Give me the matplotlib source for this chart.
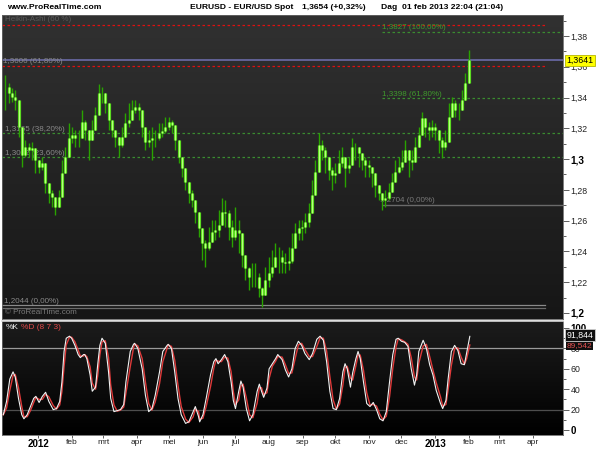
import numpy as np
import pandas as pd
import matplotlib
matplotlib.use("Agg")
import matplotlib.pyplot as plt
import matplotlib.transforms as mtransforms
from matplotlib.colors import LinearSegmentedColormap

plt.rcParams['font.family'] = ['Liberation Sans', 'DejaVu Sans']

# ---------------- data ----------------
ref_date = "2012-01-01"
price_first_date = "2011-12-02"
price_last_date = "2013-02-01"

price_close = [
    1.3471, 1.3427, 1.3406, 1.3384, 1.3211, 1.3027, 1.3081, 1.3059, 1.3070, 1.2994,
    1.2951, 1.2972, 1.2843, 1.2778, 1.2756, 1.2691, 1.2756, 1.2908, 1.3016, 1.3135,
    1.3157, 1.3135, 1.3135, 1.3243, 1.3189, 1.3124, 1.3189, 1.3287, 1.3427, 1.3427,
    1.3362, 1.3254, 1.3189, 1.3146, 1.3092, 1.3146, 1.3232, 1.3254, 1.3319, 1.3341,
    1.3319, 1.3211, 1.3113, 1.3124, 1.3135, 1.3135, 1.3167, 1.3185, 1.3211, 1.3243,
    1.3222, 1.3124, 1.3016, 1.2940, 1.2853, 1.2778, 1.2734, 1.2658, 1.2550, 1.2453,
    1.2420, 1.2464, 1.2528, 1.2539, 1.2572, 1.2658, 1.2648, 1.2561, 1.2496, 1.2539,
    1.2518, 1.2377, 1.2290, 1.2236, 1.2236, 1.2236, 1.2160, 1.2117, 1.2214, 1.2258,
    1.2301, 1.2366, 1.2366, 1.2334, 1.2327, 1.2340, 1.2420, 1.2518, 1.2550, 1.2561,
    1.2593, 1.2648, 1.2767, 1.2918, 1.3092, 1.3059, 1.3016, 1.2929, 1.2897, 1.2908,
    1.2972, 1.3016, 1.2940, 1.2962, 1.3081, 1.3081, 1.3037, 1.2994, 1.2962, 1.2951,
    1.2908, 1.2832, 1.2778, 1.2734, 1.2745, 1.2788, 1.2853, 1.2918, 1.2951, 1.2983,
    1.3059, 1.2994, 1.2983, 1.3081, 1.3157, 1.3265, 1.3211, 1.3189, 1.3211, 1.3189,
    1.3124, 1.3081, 1.3113, 1.3276, 1.3362, 1.3319, 1.3319, 1.3384, 1.3492, 1.3641,
]
price_high = [
    1.3547, 1.3492, 1.3460, 1.3449, 1.3341, 1.3102, 1.3124, 1.3102, 1.3113, 1.3059,
    1.2994, 1.3016, 1.2908, 1.2821, 1.2799, 1.2734, 1.2799, 1.2994, 1.3081, 1.3232,
    1.3211, 1.3189, 1.3189, 1.3319, 1.3254, 1.3189, 1.3254, 1.3341, 1.3488, 1.3471,
    1.3406, 1.3319, 1.3254, 1.3189, 1.3146, 1.3211, 1.3297, 1.3362, 1.3384, 1.3384,
    1.3362, 1.3276, 1.3167, 1.3189, 1.3211, 1.3189, 1.3232, 1.3232, 1.3276, 1.3276,
    1.3254, 1.3189, 1.3081, 1.2994, 1.2908, 1.2821, 1.2799, 1.2734, 1.2626, 1.2518,
    1.2474, 1.2561, 1.2604, 1.2604, 1.2669, 1.2745, 1.2734, 1.2669, 1.2604, 1.2691,
    1.2604, 1.2453, 1.2344, 1.2301, 1.2323, 1.2323, 1.2258, 1.2171, 1.2301, 1.2366,
    1.2409, 1.2453, 1.2431, 1.2409, 1.2388, 1.2431, 1.2518, 1.2583, 1.2604, 1.2604,
    1.2648, 1.2713, 1.2864, 1.2994, 1.3167, 1.3124, 1.3081, 1.2994, 1.2951, 1.2973,
    1.3059, 1.3081, 1.3016, 1.3016, 1.3135, 1.3102, 1.3059, 1.3037, 1.3016, 1.2994,
    1.2951, 1.2886, 1.2821, 1.2778, 1.2799, 1.2843, 1.2908, 1.2994, 1.3016, 1.3059,
    1.3124, 1.3037, 1.3059, 1.3146, 1.3211, 1.3308, 1.3254, 1.3243, 1.3254, 1.3232,
    1.3167, 1.3146, 1.3189, 1.3362, 1.3406, 1.3384, 1.3362, 1.3449, 1.3557, 1.3709,
]
price_low = [
    1.3319, 1.3362, 1.3373, 1.3319, 1.3146, 1.2951, 1.3016, 1.3016, 1.2994, 1.2908,
    1.2908, 1.2929, 1.2778, 1.2713, 1.2691, 1.2637, 1.2691, 1.2843, 1.2951, 1.3081,
    1.3102, 1.3081, 1.3081, 1.3189, 1.3124, 1.2994, 1.3124, 1.3232, 1.3362, 1.3362,
    1.3297, 1.3189, 1.3146, 1.3081, 1.3016, 1.3081, 1.3167, 1.3211, 1.3276, 1.3297,
    1.3254, 1.3146, 1.3059, 1.3081, 1.2994, 1.3081, 1.3124, 1.3146, 1.3167, 1.3189,
    1.3167, 1.3059, 1.2973, 1.2886, 1.2799, 1.2713, 1.2691, 1.2583, 1.2496, 1.2344,
    1.2301, 1.2409, 1.2474, 1.2474, 1.2496, 1.2604, 1.2561, 1.2474, 1.2431, 1.2474,
    1.2388, 1.2301, 1.2215, 1.2149, 1.2171, 1.2171, 1.2106, 1.2041, 1.2128, 1.2171,
    1.2236, 1.2301, 1.2258, 1.2258, 1.2258, 1.2280, 1.2323, 1.2453, 1.2474, 1.2474,
    1.2518, 1.2561, 1.2691, 1.2821, 1.2994, 1.2994, 1.2908, 1.2864, 1.2799, 1.2843,
    1.2908, 1.2951, 1.2821, 1.2908, 1.2994, 1.2994, 1.2951, 1.2929, 1.2886, 1.2886,
    1.2821, 1.2756, 1.2734, 1.2669, 1.2691, 1.2734, 1.2799, 1.2864, 1.2908, 1.2929,
    1.2994, 1.2886, 1.2929, 1.3016, 1.3102, 1.3167, 1.3146, 1.3124, 1.3146, 1.3124,
    1.3037, 1.3005, 1.3059, 1.3189, 1.3297, 1.3276, 1.3254, 1.3319, 1.3427, 1.3579,
]

# stochastic %K samples: day offset from 2012-01-01 and value
stoch_day = [
    -32, -29, -26, -23, -21, -18, -15, -13, -10, -7, -4, -2, 1, 4, 7, 10, 14, 17, 20, 22,
    24, 26, 29, 31, 34, 37, 39, 42, 43, 45, 48, 50, 53, 55, 57, 59, 62, 65, 67, 70,
    73, 76, 79, 81, 85, 88, 89, 92, 96, 99, 102, 105, 108, 112, 115, 119, 120, 123, 126, 129,
    132, 136, 139, 143, 145, 148, 149, 152, 155, 159, 162, 164, 166, 169, 172, 175, 178, 180, 182, 185,
    187, 189, 192, 195, 198, 202, 204, 206, 208, 211, 213, 216, 219, 221, 225, 228, 231, 234, 237, 240,
    243, 246, 250, 253, 257, 260, 263, 266, 269, 272, 275, 278, 281, 283, 285, 288, 290, 293, 295, 297,
    300, 303, 306, 309, 312, 315, 318, 321, 324, 327, 330, 332, 335, 338, 341, 344, 347, 349, 351, 355,
    358, 361, 364, 367, 371, 373, 376, 378, 381, 384, 387, 390, 393, 395, 398,
]
stoch_k = [
    15, 28, 50, 57, 52, 31, 15, 11, 15, 23, 31, 33, 27, 33, 37, 28, 20, 21, 28, 47,
    77, 90, 92, 90, 83, 74, 71, 74, 74, 70, 54, 38, 42, 64, 83, 90, 85, 57, 31, 18,
    19, 20, 25, 47, 77, 84, 85, 80, 60, 34, 18, 21, 34, 57, 77, 83, 84, 80, 57, 31,
    15, 6.5, 8, 18, 23, 13, 8, 15, 31, 54, 67, 70, 65, 69, 74, 67, 47, 29, 21, 38,
    48, 42, 21, 9, 15, 38, 45, 38, 32, 41, 60, 65, 70, 74, 69, 59, 52, 60, 80, 87,
    83, 75, 69, 75, 89, 92, 88, 67, 38, 21, 20, 31, 57, 65, 60, 42, 56, 70, 77, 70,
    47, 26, 23, 27, 20, 11, 9, 18, 47, 74, 89, 90, 87, 86, 82, 60, 44, 54, 77, 88,
    80, 64, 54, 39, 26, 21, 29, 50, 77, 83, 78, 65, 64, 75, 91.844,
]

month_labels = ["2012", "feb", "mrt", "apr", "mei", "jun", "jul", "aug", "sep",
                "okt", "nov", "dec", "2013", "feb", "mrt", "apr"]
main_ticks = [1.20, 1.22, 1.24, 1.26, 1.28, 1.30, 1.32, 1.34, 1.36, 1.38]
main_tick_labels = ["1,2", "1,22", "1,24", "1,26", "1,28", "1,3", "1,32", "1,34", "1,36", "1,38"]
osc_ticks = [0, 20, 40, 60, 80, 100]

red_levels = [1.3871, 1.3606]
green_full_levels = [1.3168, 1.3012]
green_right_levels = [1.3827, 1.3398]
last_price = 1.3641
last_k_text, last_d_text = "91,844", "89,542"

# ---------------- figure ----------------
fig = plt.figure(figsize=(6, 4.5), dpi=100, facecolor="white")
W, H = 600.0, 450.0
ax = fig.add_axes([2 / W, 1 - 319 / H, 561 / W, 304 / H])
ax2 = fig.add_axes([2 / W, 1 - 435 / H, 561 / W, 114 / H])

ref = pd.Timestamp(ref_date)
p_start = (pd.Timestamp(price_first_date) - ref).days
p_end = (pd.Timestamp(price_last_date) - ref).days
pdays = np.linspace(p_start, p_end, len(price_close))
close = np.array(price_close)
opn = np.r_[close[0], close[:-1]]
hi = np.maximum.reduce([np.array(price_high), opn, close])
lo = np.minimum.reduce([np.array(price_low), opn, close])

months = pd.date_range("2012-01-01", "2013-04-01", freq="MS")
month_days = (months - ref).days.values

xlim = (-33.2, 483.9)

# backgrounds
grad = np.linspace(0, 1, 256).reshape(-1, 1)
cm_main = LinearSegmentedColormap.from_list("m", ["#161616", "#313131"])
cm_osc = LinearSegmentedColormap.from_list("o", ["#000000", "#1c1c1c"])
ax.imshow(grad, extent=[0, 1, 0, 1], transform=ax.transAxes, cmap=cm_main,
          aspect="auto", origin="lower", zorder=0)
ax2.imshow(grad, extent=[0, 1, 0, 1], transform=ax2.transAxes, cmap=cm_osc,
           aspect="auto", origin="lower", zorder=0)

# level lines
for lv in red_levels:
    ax.axhline(lv, xmin=0, xmax=0.968, color="#e01010", lw=0.9, ls=(0, (2, 2)), zorder=2)
for lv in green_full_levels:
    ax.axhline(lv, xmin=0, xmax=1, color="#3a8c30", lw=0.9, ls=(0, (2, 2)), zorder=2)
for lv in green_right_levels:
    ax.axhline(lv, xmin=0.677, xmax=1, color="#3a8c30", lw=0.9, ls=(0, (2, 2)), zorder=2)
ax.axhline(1.2704, xmin=0.679, xmax=1, color="#6a6a6a", lw=1.0, zorder=2)
ax.axhline(1.2049, xmin=0, xmax=0.968, color="#8a8a8a", lw=0.9, zorder=2)
ax.axhline(1.2034, xmin=0, xmax=0.968, color="#6a6a6a", lw=0.9, zorder=2)
ax.axhline(last_price, xmin=0, xmax=1, color="#6b6ba8", lw=1.2, zorder=2)

# candles
ax.vlines(pdays, lo, hi, color="#29a300", lw=1.0, zorder=3)
ax.vlines(pdays, np.minimum(opn, close), np.maximum(opn, close), color="#4fd814", lw=2.3, zorder=4)
ax.vlines(pdays, np.minimum(opn, close), np.maximum(opn, close), color="#b8ff80", lw=0.9, zorder=5)

# labels inside main panel
bt = mtransforms.blended_transform_factory(ax.transAxes, ax.transData)
lab_kw = dict(fontsize=5.8, transform=bt, va="bottom", ha="left", zorder=2.5)
ax.text(0.002, 1.3608, "1,3606 (61,80%)", color="#8a8a8a", **lab_kw)
ax.text(0.005, 1.3170, "1,3165 (38,20%)", color="#8a8a8a", **lab_kw)
ax.text(0.005, 1.3014, "1,3012 (23,60%)", color="#8a8a8a", **lab_kw)
ax.text(0.004, 1.2051, "1,2044 (0,00%)", color="#8a8a8a", **lab_kw)
ax.text(0.677, 1.3829, "1,3827 (100,00%)", color="#3f9a2c", **lab_kw)
ax.text(0.677, 1.3400, "1,3398 (61,80%)", color="#3f9a2c", **lab_kw)
ax.text(0.674, 1.2706, "1,2704 (0,00%)", color="#7a7a7a", **lab_kw)
ax.text(0.005, 0.984, "Heikin-Ashi (60 %)", color="#5a5a5a", fontsize=5.8,
        transform=ax.transAxes, va="center", ha="left")
ax.text(0.005, 0.022, "\u00a9 ProRealTime.com", color="#7a7a7a", fontsize=5.8,
        transform=ax.transAxes, va="center", ha="left")

# main axis formatting
ax.set_xlim(*xlim)
ax.set_ylim(1.1961, 1.3936)
ax.set_xticks([])
ax.yaxis.tick_right()
ax.set_yticks(main_ticks, labels=main_tick_labels)
ax.set_yticks(np.arange(1.21, 1.40, 0.02), minor=True)
ax.tick_params(axis="y", which="major", direction="out", length=4, width=0.6,
               color="#444444", labelsize=6.3, pad=1.5, labelcolor="#222222")
ax.tick_params(axis="y", which="minor", direction="out", length=2, width=0.6, color="#444444")
for t in ax.get_yticklabels():
    if t.get_text() in ("1,3", "1,2"):
        t.set_fontweight("bold")
        t.set_fontsize(7.2)
        t.set_color("#000000")
for s in ax.spines.values():
    s.set_color("#666666")
    s.set_linewidth(0.6)

ax.annotate("1,3641", xy=(1, last_price), xycoords=bt, xytext=(2.5, 0),
            textcoords="offset points", ha="left", va="center", fontsize=6.3,
            color="#000000", annotation_clip=False, zorder=10,
            bbox=dict(boxstyle="square,pad=0.15", fc="#ffff00", ec="#b5b500", lw=0.6))

# oscillator panel
sk = pd.Series(stoch_k, dtype=float)
sd = sk.rolling(2, min_periods=1).mean()
ax2.axhline(80, color="#9a9a9a", lw=0.9, zorder=1)
ax2.axhline(20, color="#4e4e4e", lw=0.9, zorder=1)
ax2.plot(stoch_day, sd.values, color="#e03a3a", lw=1.0, zorder=3)
ax2.plot(stoch_day, sk.values, color="#f2f2f2", lw=0.8, zorder=4)
ax2.set_xlim(*xlim)
ax2.set_ylim(-4.9, 106.9)
ax2.yaxis.tick_right()
ax2.set_yticks(osc_ticks, labels=[str(v) for v in osc_ticks])
ax2.set_yticks([10, 30, 50, 70, 90], minor=True)
ax2.tick_params(axis="y", which="major", direction="out", length=4, width=0.6,
                color="#444444", labelsize=6.3, pad=1.5, labelcolor="#222222")
ax2.tick_params(axis="y", which="minor", direction="out", length=2, width=0.6, color="#444444")
for t in ax2.get_yticklabels():
    if t.get_text() in ("0", "100"):
        t.set_fontweight("bold")
        t.set_fontsize(7.0)
        t.set_color("#000000")
ax2.set_xticks(month_days, labels=month_labels)
ax2.tick_params(axis="x", direction="out", length=2, width=0.6, color="#444444",
                labelsize=6.0, pad=1.0, labelcolor="#222222")
for t in ax2.get_xticklabels():
    if t.get_text() in ("2012", "2013"):
        t.set_fontweight("bold")
        t.set_fontsize(7.0)
        t.set_color("#000000")
for s in ax2.spines.values():
    s.set_color("#666666")
    s.set_linewidth(0.6)
ax2.spines["top"].set_color("#d8d8d8")
ax2.spines["top"].set_linewidth(1.2)

ax2.text(0.006, 0.94, "%K", color="#f0f0f0", fontsize=6.0, transform=ax2.transAxes,
         va="center", ha="left")
ax2.text(0.033, 0.94, "%D (8 7 3)", color="#e04848", fontsize=6.0, transform=ax2.transAxes,
         va="center", ha="left")

bt2 = mtransforms.blended_transform_factory(ax2.transAxes, ax2.transData)
ax2.annotate(last_d_text, xy=(1, 88.6), xycoords=bt2, xytext=(2.5, -4),
             textcoords="offset points", ha="left", va="center", fontsize=6.0,
             color="#e05050", annotation_clip=False, zorder=9,
             bbox=dict(boxstyle="square,pad=0.1", fc="#101010", ec="none"))
ax2.annotate(last_k_text, xy=(1, 91.844), xycoords=bt2, xytext=(2.5, 1),
             textcoords="offset points", ha="left", va="center", fontsize=6.3,
             color="#ffffff", annotation_clip=False, zorder=10,
             bbox=dict(boxstyle="square,pad=0.15", fc="#101010", ec="#d0d0d0", lw=0.6))

# header
hdr = dict(fontsize=6.1, fontweight="bold", color="#000000", va="center", ha="left")
fig.text(7 / W, 1 - 7.5 / H, "www.ProRealTime.com", **hdr)
fig.text(190 / W, 1 - 7.5 / H, "EURUSD - EUR/USD Spot", **hdr)
fig.text(302 / W, 1 - 7.5 / H, "1,3654 (+0,32%)", **hdr)
fig.text(381 / W, 1 - 7.5 / H, "Dag  01 feb 2013 22:04 (21:04)", **hdr)

fig.savefig("out.png", dpi=100, facecolor="white")
